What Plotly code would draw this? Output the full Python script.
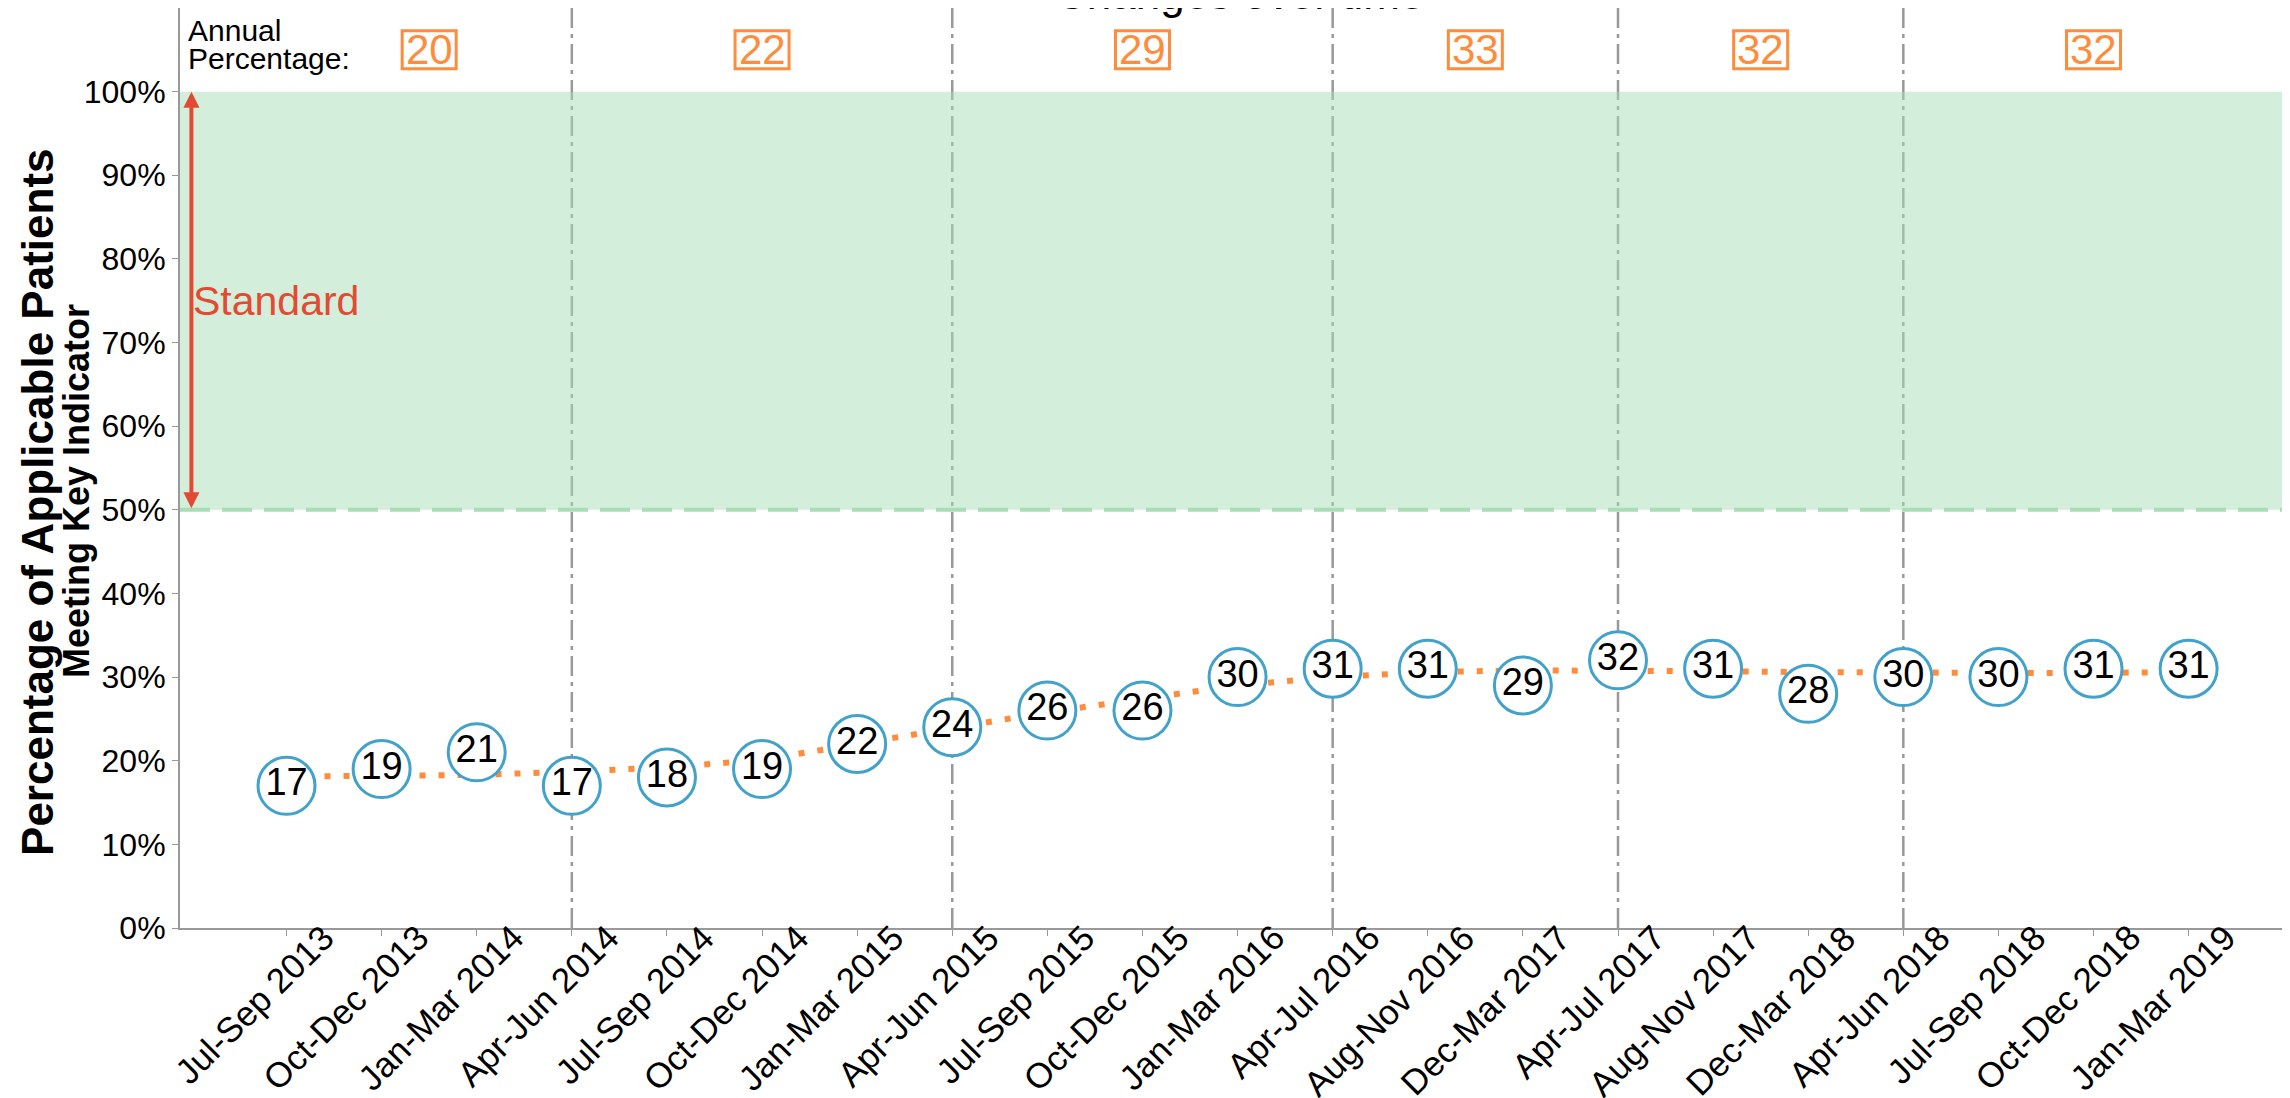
import plotly.graph_objects as go

# quarterly periods shown on the x axis
periods = [
    "Jul-Sep 2013", "Oct-Dec 2013", "Jan-Mar 2014", "Apr-Jun 2014",
    "Jul-Sep 2014", "Oct-Dec 2014", "Jan-Mar 2015", "Apr-Jun 2015",
    "Jul-Sep 2015", "Oct-Dec 2015", "Jan-Mar 2016", "Apr-Jul 2016",
    "Aug-Nov 2016", "Dec-Mar 2017", "Apr-Jul 2017", "Aug-Nov 2017",
    "Dec-Mar 2018", "Apr-Jun 2018", "Jul-Sep 2018", "Oct-Dec 2018",
    "Jan-Mar 2019",
]
values = [17, 19, 21, 17, 18, 19, 22, 24, 26, 26, 30, 31, 31, 29, 32, 31, 28, 30, 30, 31, 31]
trend = [18.1, 18.2, 18.3, 18.7, 19.2, 20.1, 22.0, 23.9, 25.8, 27.4, 29.0,
         30.0, 30.6, 30.8, 30.8, 30.7, 30.6, 30.5, 30.5, 30.5, 30.6]
year_breaks = ["Apr-Jun 2014", "Apr-Jun 2015", "Apr-Jul 2016", "Apr-Jul 2017", "Apr-Jun 2018"]
annual_pct = [20, 22, 29, 33, 32, 32]
standard_low = 50
standard_high = 100
y_ticks = [0, 10, 20, 30, 40, 50, 60, 70, 80, 90, 100]

FONT = "Liberation Sans, Arial, sans-serif"
BLUE = "#43A2CA"
ORANGE = "#FD8D3C"
GREEN = "#A8DDB5"
RED = "#E34A33"
GREY = "#999999"

x = list(range(len(periods)))
x_range = [-1.12, len(periods) + 0.15]
y_range = [0, 110]

break_idx = [periods.index(b) for b in year_breaks]
edges = [0] + break_idx + [len(periods)]
annual_x = [(a + b) / 2 for a, b in zip(edges[:-1], edges[1:])]
annual_y = 105

fig = go.Figure()

fig.add_trace(go.Scatter(
    x=x, y=trend, mode="lines",
    line=dict(color=ORANGE, width=6, dash="6px,13px"),
    hoverinfo="skip", showlegend=False,
))
fig.add_trace(go.Scatter(
    x=x, y=values, mode="markers+text",
    text=[str(v) for v in values], textposition="middle center",
    textfont=dict(family=FONT, size=38, color="black"),
    marker=dict(size=57, color="white", line=dict(color=BLUE, width=3)),
    showlegend=False,
))

shapes = []
# standard band
shapes.append(dict(type="rect", xref="x", yref="y", x0=x_range[0], x1=len(periods),
                   y0=standard_low, y1=standard_high, fillcolor="rgba(168,221,181,0.5)",
                   line=dict(width=0), layer="below"))
shapes.append(dict(type="line", xref="paper", yref="y", x0=0, x1=1,
                   y0=standard_low, y1=standard_low,
                   line=dict(color=GREEN, width=4, dash="30px,12px"), layer="below"))
for b in break_idx:
    shapes.append(dict(type="line", xref="x", yref="paper", x0=b, x1=b, y0=0, y1=1,
                       line=dict(color=GREY, width=2.5, dash="20px,6px,4px,6px"), layer="below"))
for ax_ in annual_x:
    shapes.append(dict(type="rect", xref="x", yref="y", xsizemode="pixel", ysizemode="pixel",
                       xanchor=ax_, yanchor=annual_y, x0=-27, x1=27, y0=-19, y1=19,
                       line=dict(color=ORANGE, width=3), fillcolor="rgba(0,0,0,0)"))

annotations = []
# angled period labels under the axis
for xi, lab in zip(x, periods):
    annotations.append(dict(x=xi, y=0, xref="x", yref="paper", text=lab, textangle=-45,
                            showarrow=False, xanchor="right", yanchor="top",
                            xshift=57, yshift=13,
                            font=dict(family=FONT, size=35, color="black")))
for ax_, pct in zip(annual_x, annual_pct):
    annotations.append(dict(x=ax_, y=annual_y, xref="x", yref="y", text=str(pct),
                            showarrow=False, xanchor="center", yanchor="middle",
                            font=dict(family=FONT, size=42, color=ORANGE)))
annotations.append(dict(x=-1.06, y=107.3, xref="x", yref="y", text="Annual", showarrow=False,
                        xanchor="left", yanchor="middle",
                        font=dict(family=FONT, size=30, color="black")))
annotations.append(dict(x=-1.06, y=104.0, xref="x", yref="y", text="Percentage:", showarrow=False,
                        xanchor="left", yanchor="middle",
                        font=dict(family=FONT, size=30, color="black")))
# standard arrow
annotations.append(dict(x=-1, y=standard_high, ax=-1, ay=standard_low, xref="x", yref="y",
                        axref="x", ayref="y", text="", showarrow=True, arrowside="end+start",
                        arrowhead=2, arrowsize=0.8, arrowwidth=4, arrowcolor=RED,
                        standoff=0, startstandoff=0))
annotations.append(dict(x=-1, y=75, xref="x", yref="y", text="Standard", showarrow=False,
                        xanchor="left", yanchor="middle",
                        font=dict(family=FONT, size=41, color=RED)))
# title, mostly above the page
annotations.append(dict(x=0.5, y=1, xref="paper", yref="paper", text="Changes over time",
                        showarrow=False, xanchor="center", yanchor="middle", yshift=15,
                        font=dict(family=FONT, size=44, color="black")))
# y axis title in two lines
annotations.append(dict(x=0, y=0.462, xref="paper", yref="paper",
                        text="<b>Percentage of Applicable Patients</b>", textangle=-90,
                        showarrow=False, xanchor="center", yanchor="middle", xshift=-142,
                        font=dict(family=FONT, size=44, color="black")))
annotations.append(dict(x=0, y=0.475, xref="paper", yref="paper",
                        text="<b>Meeting Key Indicator</b>", textangle=-90,
                        showarrow=False, xanchor="center", yanchor="middle", xshift=-104,
                        font=dict(family=FONT, size=36, color="black")))

fig.update_layout(
    width=2290, height=1098,
    margin=dict(l=172, r=0, t=0, b=178),
    plot_bgcolor="white", paper_bgcolor="white",
    font=dict(family=FONT, color="black"),
    shapes=shapes, annotations=annotations,
    showlegend=False,
)
fig.update_xaxes(
    range=x_range, tickmode="array", tickvals=x, showticklabels=False,
    automargin=False,
    showgrid=False, zeroline=False, showline=True, linecolor=GREY, linewidth=2,
    ticks="outside", ticklen=6, tickcolor=GREY,
)
fig.update_yaxes(
    range=y_range, tickmode="array", tickvals=y_ticks,
    ticktext=[f"{v}%" for v in y_ticks], automargin=False,
    tickfont=dict(family=FONT, size=32, color="black"),
    showgrid=False, zeroline=False, showline=True, linecolor=GREY, linewidth=2,
    ticks="outside", ticklen=6, tickcolor=GREY,
)

fig.write_html("out.html")
